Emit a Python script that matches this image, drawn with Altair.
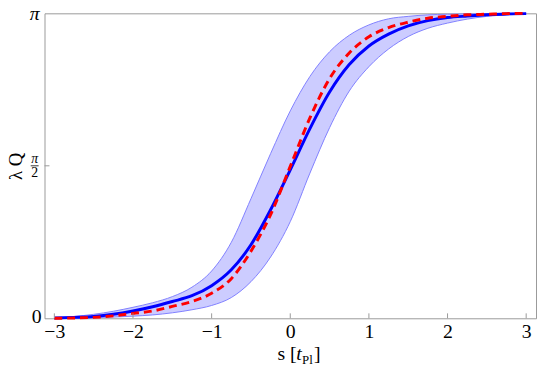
import altair as alt
import pandas as pd

# s in units of Planck time
s_vals = [-3.0, -2.75, -2.5, -2.25, -2.0, -1.75, -1.5, -1.25, -1.0, -0.75, -0.5, -0.25,
          0.0, 0.25, 0.5, 0.75, 1.0, 1.25, 1.5, 1.75, 2.0, 2.25, 2.5, 2.75, 3.0]
# lambda Q in units of pi
blue_mean = [0.001, 0.003, 0.006, 0.013, 0.024, 0.038, 0.055, 0.074, 0.107, 0.159, 0.241, 0.356,
             0.487, 0.622, 0.742, 0.832, 0.893, 0.932, 0.959, 0.976, 0.986, 0.991, 0.995, 0.998, 0.999]
red_classical = [0.000, 0.001, 0.003, 0.008, 0.016, 0.024, 0.039, 0.055, 0.082, 0.130, 0.220, 0.340,
                 0.498, 0.657, 0.786, 0.870, 0.923, 0.953, 0.971, 0.984, 0.990, 0.995, 0.997, 0.999, 1.000]
band_upper = [0.002, 0.006, 0.013, 0.023, 0.036, 0.051, 0.071, 0.102, 0.155, 0.249, 0.392, 0.540,
              0.680, 0.793, 0.874, 0.928, 0.962, 0.982, 0.990, 0.995, 0.997, 0.998, 0.999, 1.000, 1.000]
band_lower = [0.000, 0.001, 0.002, 0.004, 0.007, 0.011, 0.018, 0.028, 0.042, 0.068, 0.120, 0.201,
              0.317, 0.476, 0.625, 0.745, 0.825, 0.883, 0.924, 0.951, 0.968, 0.981, 0.990, 0.995, 0.998]

x_ticks = [-3, -2, -1, 0, 1, 2, 3]

df = pd.DataFrame({"s": s_vals, "blue": blue_mean, "red": red_classical,
                   "hi": band_upper, "lo": band_lower})
tick_df = pd.DataFrame({"t": x_ticks})
one = pd.DataFrame({"k": [0]})

FONT = "Liberation Serif"
GRAY = "#999999"

xscale = alt.Scale(domain=[-3.125, 3.125], nice=False, zero=False)
yscale = alt.Scale(domain=[0, 1], nice=False, zero=False)

xaxis = alt.Axis(values=x_ticks, format="d", title=None, grid=False, domain=False, ticks=False,
                 labelFont=FONT, labelFontSize=20, labelColor="black", labelPadding=3,
                 labelFlush=False)

base = alt.Chart(df)

band = base.mark_area(color="#ccccff", opacity=1, interpolate="monotone").encode(
    x=alt.X("s:Q", scale=xscale, axis=xaxis),
    y=alt.Y("lo:Q", scale=yscale, axis=None),
    y2="hi:Q",
)
edge_hi = base.mark_line(color="#8080ff", strokeWidth=1, interpolate="monotone").encode(
    x=alt.X("s:Q", scale=xscale), y=alt.Y("hi:Q", scale=yscale, axis=None))
edge_lo = base.mark_line(color="#8080ff", strokeWidth=1, interpolate="monotone").encode(
    x=alt.X("s:Q", scale=xscale), y=alt.Y("lo:Q", scale=yscale, axis=None))
blue_line = base.mark_line(color="#0000ff", strokeWidth=3, interpolate="monotone").encode(
    x=alt.X("s:Q", scale=xscale), y=alt.Y("blue:Q", scale=yscale, axis=None))
red_line = base.mark_line(color="#ff0000", strokeWidth=3, strokeDash=[8, 5],
                          interpolate="monotone").encode(
    x=alt.X("s:Q", scale=xscale), y=alt.Y("red:Q", scale=yscale, axis=None))

xt = alt.Chart(tick_df).mark_rule(color=GRAY, strokeWidth=1).encode(
    x=alt.X("t:Q", scale=xscale), y=alt.value(309), y2=alt.value(304))
yt = alt.Chart(one).mark_rule(color=GRAY, strokeWidth=1).encode(
    x=alt.value(0), x2=alt.value(5), y=alt.datum(0.5, scale=yscale))

def txt(text, x, y, size=20, style="normal", align="left", baseline="alphabetic", dy=0, angle=0):
    return alt.Chart(one).mark_text(font=FONT, fontSize=size, fontStyle=style, fontWeight="normal",
                                    align=align, baseline=baseline, dy=dy, angle=angle,
                                    color="black").encode(x=x, y=y, text=alt.value(text))

lab0 = txt("0", alt.value(-3), alt.datum(0, scale=yscale), align="right", baseline="middle", dy=-1)
labpi = txt("π", alt.value(-5), alt.datum(1, scale=yscale), style="italic", align="right",
            baseline="middle", dy=1)
labhalf_num = txt("π", alt.value(-10), alt.datum(0.5, scale=yscale), size=14, style="italic",
                  align="center", baseline="middle", dy=-7)
labhalf_den = txt("2", alt.value(-10), alt.datum(0.5, scale=yscale), size=14,
                  align="center", baseline="middle", dy=7)
labhalf_bar = alt.Chart(one).mark_rule(color="black", strokeWidth=0.8).encode(
    x=alt.value(-14), x2=alt.value(-6), y=alt.datum(0.5, scale=yscale))

ytitle = txt("λ Q", alt.value(-29), alt.value(155), size=19, align="center", baseline="middle",
             angle=270)

t1 = txt("s [", alt.value(236), alt.value(351))
t2 = txt("t", alt.value(255), alt.value(351), style="italic")
t3 = txt("Pl", alt.value(261), alt.value(355), size=13)
t4 = txt("]", alt.value(273), alt.value(351))

chart = alt.layer(
    band, edge_hi, edge_lo, blue_line, red_line, xt, yt,
    lab0, labpi, labhalf_num, labhalf_den, labhalf_bar, ytitle, t1, t2, t3, t4
).properties(
    width=498, height=309,
    padding={"left": 37, "top": 3, "right": 1, "bottom": 50},
    autosize=alt.AutoSizeParams(type="none"),
    background="white",
).configure_view(stroke=GRAY, strokeWidth=1)

chart.save("out.html", embed_options={"renderer": "svg", "actions": False})
